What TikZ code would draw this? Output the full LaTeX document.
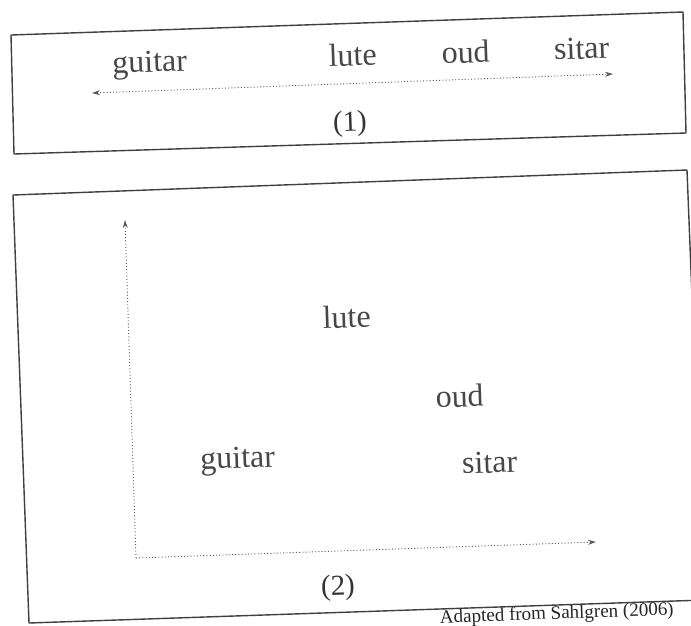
\documentclass[tikz,border=0pt]{standalone}
\usepackage{fontspec}
\setmainfont{Liberation Serif}
\usetikzlibrary{arrows.meta}
\begin{document}
\begin{tikzpicture}[x=1pt,y=-1pt,
  panel/.style={draw=black!75,line width=1.4pt,line join=round},
  axis/.style={draw=black!65,line width=0.9pt,dash pattern=on 1pt off 2.2pt,
    -{Stealth[length=8pt,width=5pt]}},
  biaxis/.style={axis,{Stealth[length=8pt,width=5pt]}-{Stealth[length=8pt,width=5pt]}},
  word/.style={anchor=base,inner sep=0pt,rotate=2,text=black!72,
    font=\fontsize{32}{36}\selectfont},
  tag/.style={anchor=center,inner sep=0pt,rotate=2,text=black!80,
    font=\fontsize{29}{32}\selectfont},
  credit/.style={anchor=base east,inner sep=0pt,rotate=2,text=black!85,
    font=\fontsize{19}{23}\selectfont}]
\useasboundingbox (0,0) rectangle (691,625);
\clip (0,0) rectangle (691,625);
\fill[white] (0,0) rectangle (691,625);
% panel 1
\draw[panel] (11,35) -- (683,12) -- (686,133) -- (14,154) -- cycle;
\coordinate (a1l) at (92,93);
\coordinate (a1r) at (613,74);
\draw[biaxis] (a1l) -- (a1r);
\node[word] (g1) at (150,72) {guitar};
\node[word] (l1) at (353,66) {lute};
\node[word] (o1) at (466,63) {oud};
\node[word] (s1) at (582,59) {sitar};
\node[tag] (t1) at (350,124) {(1)};
% panel 2
\draw[panel] (13,195) -- (687,170) -- (704,600) -- (29,623) -- cycle;
\coordinate (org) at (136,558);
\coordinate (ytip) at (125,220);
\coordinate (xtip) at (596,542);
\draw[axis] (org) -- (ytip);
\draw[axis] (org) -- (xtip);
\node[word] (l2) at (347,328) {lute};
\node[word] (o2) at (460,407) {oud};
\node[word] (g2) at (238,468) {guitar};
\node[word] (s2) at (490,473) {sitar};
\node[tag] (t2) at (338,588) {(2)};
\node[credit] (cr) at (674,615) {Adapted from Sahlgren (2006)};
\end{tikzpicture}
\end{document}
